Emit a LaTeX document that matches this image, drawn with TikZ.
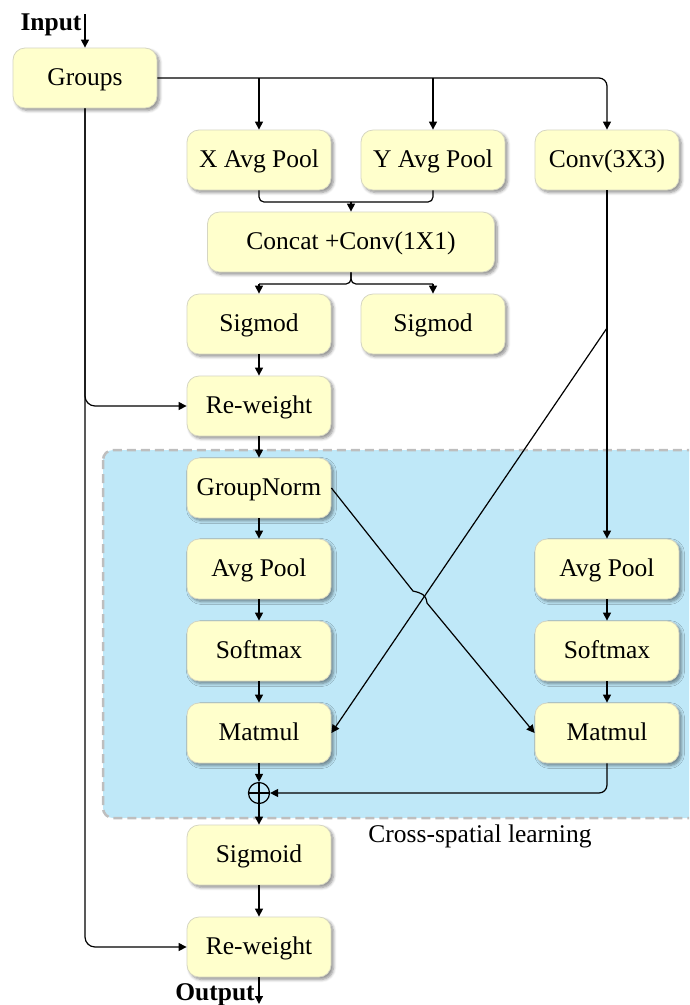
\documentclass[tikz,border=0pt]{standalone}
\usepackage{fontspec}
\setmainfont{Liberation Serif}
\usetikzlibrary{arrows.meta,shadows.blur,calc}
\definecolor{boxfill}{RGB}{255,255,204}
\definecolor{boxline}{RGB}{214,214,194}
\definecolor{bluefill}{RGB}{191,232,248}
\definecolor{dashgray}{RGB}{190,190,190}
\begin{document}
\begin{tikzpicture}[x=1pt,y=-1pt,
  box/.style={draw=boxline, fill=boxfill, line width=0.8pt, rounded corners=12pt,
    minimum width=144pt, minimum height=60pt, inner sep=0pt,
    text height=18pt, text depth=4pt,
    font=\fontsize{25.5}{30}\selectfont,
    blur shadow={shadow xshift=2.5pt, shadow yshift=-2.5pt, shadow blur steps=6, shadow opacity=45, shadow blur radius=3pt}},
  conn/.style={line width=1.2pt, draw=black},
  arr/.style={conn, -{Triangle[length=8pt,width=8pt]}},
  lbl/.style={font=\fontsize{25.5}{30}\selectfont\bfseries, inner sep=0pt},
  note/.style={font=\fontsize{25.5}{30}\selectfont, inner sep=0pt}
]
\useasboundingbox (0,0) rectangle (689,1005);

% cross-spatial region
\begin{scope}
\clip (0,0) rectangle (689,1005);
\draw[fill=bluefill, draw=dashgray, dash pattern=on 9pt off 5pt, line width=2.5pt, rounded corners=10pt] (103,450) rectangle (715,818);
\end{scope}

% nodes
\node[box] (groups) at (85,78) {Groups};
\node[box] (xap) at (259,160) {X Avg Pool};
\node[box] (yap) at (433,160) {Y Avg Pool};
\node[box] (conv) at (607,160) {Conv(3X3)};
\node[box, minimum width=287pt] (cat) at (351,242) {Concat +Conv(1X1)};
\node[box] (sig1) at (259,324) {Sigmod};
\node[box] (sig2) at (433,324) {Sigmod};
\node[box] (rw1) at (259,406) {Re-weight};
\node[box] (gn) at (259,488) {GroupNorm};
\node[box] (ap1) at (259,569) {Avg Pool};
\node[box] (sm1) at (259,651) {Softmax};
\node[box] (mm1) at (259,733) {Matmul};
\node[box] (ap2) at (607,569) {Avg Pool};
\node[box] (sm2) at (607,651) {Softmax};
\node[box] (mm2) at (607,733) {Matmul};
\node[draw, circle, line width=1.2pt, minimum size=21pt, inner sep=0pt] (plus) at (259,793) {};
\draw[line width=1.2pt] (plus.north) -- (plus.south) (plus.west) -- (plus.east);
\node[box] (sgm) at (259,855) {Sigmoid};
\node[box] (rw2) at (259,947) {Re-weight};
\node[lbl, anchor=base] (in) at (51,30) {Input};
\node[lbl, anchor=base] (out) at (215,1000) {Output};
\node[note, anchor=base] (csl) at (480,842) {Cross-spatial learning};

% helper coordinates
\coordinate (inTop) at (85,14);
\coordinate (outEnd) at (259,1004);
\coordinate (j1) at (351,202);
\coordinate (j2) at (351,284);
\coordinate (br) at (607,328);
\coordinate (h1) at (413,591);
\coordinate (h2) at (427,603);

% connectors
\draw[arr] (inTop) -- (groups.north);
\draw[arr, rounded corners=8pt] (groups.east) -| (conv.north);
\draw[arr] (xap.north |- groups.east) -- (xap.north);
\draw[arr] (yap.north |- groups.east) -- (yap.north);

\draw[conn, rounded corners=5pt] (xap.south) |- (j1);
\draw[conn, rounded corners=5pt] (yap.south) |- (j1);
\draw[arr] (j1) -- (cat.north);

\draw[conn, rounded corners=5pt] (sig1.north |- j2) -| (cat.south);
\draw[conn, rounded corners=5pt] (sig2.north |- j2) -| (cat.south);
\draw[arr] (sig1.north |- j2) -- (sig1.north);
\draw[arr] (sig2.north |- j2) -- (sig2.north);

\draw[arr, rounded corners=10pt] (groups.south) |- (rw1.west);
\draw[arr, rounded corners=10pt] (groups.south) |- (rw2.west);

\draw[arr] (sig1) -- (rw1);
\draw[arr] (rw1) -- (gn);
\draw[arr] (gn) -- (ap1);
\draw[arr] (ap1) -- (sm1);
\draw[arr] (sm1) -- (mm1);
\draw[arr] (mm1) -- (plus);
\draw[arr] (plus) -- (sgm);
\draw[arr] (sgm) -- (rw2);
\draw[arr] (rw2.south) -- (outEnd);

\draw[arr] (conv) -- (ap2);
\draw[arr] (ap2) -- (sm2);
\draw[arr] (sm2) -- (mm2);
\draw[arr] (br) -- (mm1.east);
\draw[arr] (gn.east) -- (h1) .. controls (421,593) and (426,594) .. (h2) -- (mm2.west);
\draw[arr, rounded corners=8pt] (mm2.south) |- (plus.east);
\end{tikzpicture}
\end{document}
